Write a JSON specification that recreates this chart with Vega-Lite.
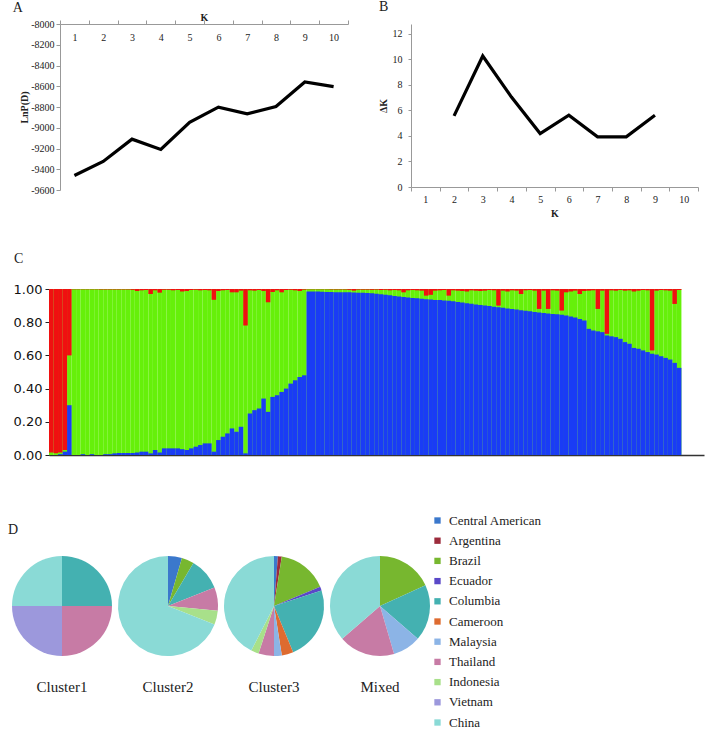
{
  "$schema": "https://vega.github.io/schema/vega-lite/v6.json",
  "padding": 0,
  "config": {
    "view": {"stroke": null},
    "font": "Liberation Serif",
    "axis": {"grid": false, "labelFont": "Liberation Serif", "titleFont": "Liberation Serif", "labelColor": "#222", "titleColor": "#222", "labelFontSize": 10, "titleFontSize": 10, "titleFontWeight": "bold"},
    "title": {"font": "Liberation Serif", "fontWeight": "normal", "fontSize": 14, "anchor": "start", "color": "#222"},
    "legend": {"padding": 0}
  },
  "vconcat": [
    {
      "vconcat": [
        {
          "hconcat": [
            {
              "hconcat": [
                {"width": 12, "height": 1, "data": {"values": [{}]}, "mark": {"type": "point", "opacity": 0, "size": 0}, "encoding": {}},
                {
                  "width": 288,
                  "height": 166,
                  "title": {"text": "A", "dx": -7, "offset": -2},
                  "data": {"values": [
                    {"K": 1, "lnp": -9460}, {"K": 2, "lnp": -9325}, {"K": 3, "lnp": -9110}, {"K": 4, "lnp": -9209},
                    {"K": 5, "lnp": -8947}, {"K": 6, "lnp": -8801}, {"K": 7, "lnp": -8866}, {"K": 8, "lnp": -8795},
                    {"K": 9, "lnp": -8559}, {"K": 10, "lnp": -8604}
                  ]},
                  "mark": {"type": "line", "color": "#000", "strokeWidth": 3.2},
                  "encoding": {
                    "x": {"field": "K", "type": "quantitative", "scale": {"domain": [0.5, 10.5], "nice": false, "zero": false},
                      "axis": {"orient": "top", "values": [0.5, 1.5, 2.5, 3.5, 4.5, 5.5, 6.5, 7.5, 8.5, 9.5, 10.5],
                        "labelExpr": "datum.value > 10 ? '' : '' + (datum.value + 0.5)", "labelOffset": 14.4, "labelPadding": -22,
                        "labelFlush": false, "labelOverlap": false, "title": "K", "titlePadding": -3,
                        "domainColor": "#999", "tickColor": "#999", "tickSize": 4}},
                    "y": {"field": "lnp", "type": "quantitative", "scale": {"domain": [-9600, -8000], "nice": false, "zero": false},
                      "axis": {"values": [-9600, -9400, -9200, -9000, -8800, -8600, -8400, -8200, -8000], "labelExpr": "'' + datum.value",
                        "title": "LnP(D)", "titlePadding": 1, "domainColor": "#999", "tickColor": "#999", "tickSize": 4, "labelPadding": 2}}
                  }
                }
              ],
              "spacing": 0
            },
            {
              "width": 287,
              "height": 163,
              "title": {"text": "B", "dx": 1, "offset": 10},
              "data": {"values": [
                {"K": 2, "dk": 5.58}, {"K": 3, "dk": 10.27}, {"K": 4, "dk": 7.05}, {"K": 5, "dk": 4.19},
                {"K": 6, "dk": 5.63}, {"K": 7, "dk": 3.93}, {"K": 8, "dk": 3.93}, {"K": 9, "dk": 5.63}
              ]},
              "mark": {"type": "line", "color": "#000", "strokeWidth": 3.2},
              "encoding": {
                "x": {"field": "K", "type": "quantitative", "scale": {"domain": [0.5, 10.5], "nice": false, "zero": false},
                  "axis": {"values": [0.5, 1.5, 2.5, 3.5, 4.5, 5.5, 6.5, 7.5, 8.5, 9.5, 10.5],
                    "labelExpr": "datum.value > 10 ? '' : '' + (datum.value + 0.5)", "labelOffset": 14.35, "labelPadding": 3,
                    "labelFlush": false, "labelOverlap": false, "title": "K", "titlePadding": 4,
                    "domainColor": "#999", "tickColor": "#999", "tickSize": 4}},
                "y": {"field": "dk", "type": "quantitative", "scale": {"domain": [0, 12.78], "nice": false},
                  "axis": {"values": [0, 2, 4, 6, 8, 10, 12], "labelOverlap": false, "title": "ΔK", "titlePadding": 4,
                    "domainColor": "#999", "tickColor": "#999", "tickSize": 3, "labelPadding": 6}}
              }
            }
          ],
          "spacing": 15
        },
        {
          "hconcat": [
            {"width": 13, "height": 1, "data": {"values": [{}]}, "mark": {"type": "point", "opacity": 0, "size": 0}, "encoding": {}},
            {
              "width": 655,
              "height": 166,
              "title": {"text": "C", "dx": 1, "offset": 17},
              "data": {"values": [
                {"i":0,"blue":0,"red":0.985},{"i":1,"blue":0,"red":0.99},{"i":2,"blue":0.005,"red":0.985},{"i":3,"blue":0.02,"red":0.97},{"i":4,"blue":0.3,"red":0.4},
                {"i":5,"blue":0,"red":0.002},{"i":6,"blue":0,"red":0.002},{"i":7,"blue":0.005,"red":0.002},{"i":8,"blue":0,"red":0.002},{"i":9,"blue":0.005,"red":0.002},
                {"i":10,"blue":0,"red":0.002},{"i":11,"blue":0,"red":0.003},{"i":12,"blue":0.005,"red":0.003},{"i":13,"blue":0.005,"red":0.003},{"i":14,"blue":0.01,"red":0.003},
                {"i":15,"blue":0.012,"red":0.003},{"i":16,"blue":0.012,"red":0.003},{"i":17,"blue":0.012,"red":0.003},{"i":18,"blue":0.012,"red":0.005},{"i":19,"blue":0.015,"red":0.012},
                {"i":20,"blue":0.02,"red":0.008},{"i":21,"blue":0.02,"red":0.006},{"i":22,"blue":0.01,"red":0.03},{"i":23,"blue":0.03,"red":0.008},{"i":24,"blue":0.015,"red":0.022},
                {"i":25,"blue":0.04,"red":0.005},{"i":26,"blue":0.04,"red":0.005},{"i":27,"blue":0.04,"red":0.008},{"i":28,"blue":0.04,"red":0.006},{"i":29,"blue":0.035,"red":0.015},
                {"i":30,"blue":0.03,"red":0.012},{"i":31,"blue":0.04,"red":0.006},{"i":32,"blue":0.05,"red":0.005},{"i":33,"blue":0.06,"red":0.008},{"i":34,"blue":0.07,"red":0.006},
                {"i":35,"blue":0.07,"red":0.008},{"i":36,"blue":0.02,"red":0.065},{"i":37,"blue":0.09,"red":0.012},{"i":38,"blue":0.11,"red":0.008},{"i":39,"blue":0.13,"red":0.006},
                {"i":40,"blue":0.16,"red":0.02},{"i":41,"blue":0.14,"red":0.02},{"i":42,"blue":0.17,"red":0.01},{"i":43,"blue":0.01,"red":0.22},{"i":44,"blue":0.25,"red":0.008},
                {"i":45,"blue":0.27,"red":0.01},{"i":46,"blue":0.28,"red":0.006},{"i":47,"blue":0.34,"red":0.012},{"i":48,"blue":0.26,"red":0.08},{"i":49,"blue":0.35,"red":0.018},
                {"i":50,"blue":0.36,"red":0.008},{"i":51,"blue":0.38,"red":0.02},{"i":52,"blue":0.4,"red":0.006},{"i":53,"blue":0.43,"red":0.005},{"i":54,"blue":0.45,"red":0.008},
                {"i":55,"blue":0.47,"red":0.012},{"i":56,"blue":0.48,"red":0.004},
                {"i":57,"blue":0.985,"red":0.002},{"i":58,"blue":0.985,"red":0.002},{"i":59,"blue":0.985,"red":0.002},{"i":60,"blue":0.983,"red":0.002},{"i":61,"blue":0.982,"red":0.002},
                {"i":62,"blue":0.982,"red":0.003},{"i":63,"blue":0.981,"red":0.003},{"i":64,"blue":0.98,"red":0.003},{"i":65,"blue":0.98,"red":0.003},{"i":66,"blue":0.98,"red":0.005},
                {"i":67,"blue":0.979,"red":0.01},{"i":68,"blue":0.978,"red":0.004},{"i":69,"blue":0.977,"red":0.004},{"i":70,"blue":0.976,"red":0.004},{"i":71,"blue":0.975,"red":0.005},
                {"i":72,"blue":0.972,"red":0.004},{"i":73,"blue":0.968,"red":0.006},{"i":74,"blue":0.965,"red":0.005},{"i":75,"blue":0.962,"red":0.008},{"i":76,"blue":0.958,"red":0.006},
                {"i":77,"blue":0.955,"red":0.008},{"i":78,"blue":0.952,"red":0.02},{"i":79,"blue":0.949,"red":0.008},{"i":80,"blue":0.946,"red":0.006},{"i":81,"blue":0.944,"red":0.008},
                {"i":82,"blue":0.941,"red":0.01},{"i":83,"blue":0.939,"red":0.04},{"i":84,"blue":0.936,"red":0.035},{"i":85,"blue":0.934,"red":0.01},{"i":86,"blue":0.933,"red":0.008},
                {"i":87,"blue":0.931,"red":0.006},{"i":88,"blue":0.929,"red":0.04},{"i":89,"blue":0.926,"red":0.008},{"i":90,"blue":0.922,"red":0.01},{"i":91,"blue":0.918,"red":0.012},
                {"i":92,"blue":0.914,"red":0.015},{"i":93,"blue":0.911,"red":0.008},{"i":94,"blue":0.907,"red":0.01},{"i":95,"blue":0.904,"red":0.012},{"i":96,"blue":0.9,"red":0.01},
                {"i":97,"blue":0.897,"red":0.006},{"i":98,"blue":0.893,"red":0.008},{"i":99,"blue":0.89,"red":0.1},{"i":100,"blue":0.887,"red":0.01},{"i":101,"blue":0.883,"red":0.015},
                {"i":102,"blue":0.88,"red":0.008},{"i":103,"blue":0.876,"red":0.01},{"i":104,"blue":0.872,"red":0.03},{"i":105,"blue":0.869,"red":0.008},{"i":106,"blue":0.866,"red":0.006},
                {"i":107,"blue":0.862,"red":0.01},{"i":108,"blue":0.859,"red":0.12},{"i":109,"blue":0.855,"red":0.01},{"i":110,"blue":0.852,"red":0.12},{"i":111,"blue":0.85,"red":0.008},
                {"i":112,"blue":0.848,"red":0.01},{"i":113,"blue":0.845,"red":0.13},{"i":114,"blue":0.84,"red":0.02},{"i":115,"blue":0.835,"red":0.015},{"i":116,"blue":0.828,"red":0.01},
                {"i":117,"blue":0.82,"red":0.03},{"i":118,"blue":0.81,"red":0.012},{"i":119,"blue":0.76,"red":0.01},{"i":120,"blue":0.75,"red":0.008},{"i":121,"blue":0.745,"red":0.12},
                {"i":122,"blue":0.74,"red":0.01},{"i":123,"blue":0.72,"red":0.27},{"i":124,"blue":0.715,"red":0.008},{"i":125,"blue":0.71,"red":0.01},{"i":126,"blue":0.7,"red":0.006},
                {"i":127,"blue":0.68,"red":0.01},{"i":128,"blue":0.67,"red":0.008},{"i":129,"blue":0.645,"red":0.015},{"i":130,"blue":0.64,"red":0.01},{"i":131,"blue":0.63,"red":0.006},
                {"i":132,"blue":0.62,"red":0.008},{"i":133,"blue":0.61,"red":0.37},{"i":134,"blue":0.605,"red":0.01},{"i":135,"blue":0.595,"red":0.006},{"i":136,"blue":0.585,"red":0.008},
                {"i":137,"blue":0.575,"red":0.01},{"i":138,"blue":0.555,"red":0.09},{"i":139,"blue":0.525,"red":0.006}
              ]},
              "encoding": {
                "x": {"field": "i", "type": "ordinal",
                  "scale": {"paddingInner": 0, "paddingOuter": 0, "domain": [0,1,2,3,4,5,6,7,8,9,10,11,12,13,14,15,16,17,18,19,20,21,22,23,24,25,26,27,28,29,30,31,32,33,34,35,36,37,38,39,40,41,42,43,44,45,46,47,48,49,50,51,52,53,54,55,56,57,58,59,60,61,62,63,64,65,66,67,68,69,70,71,72,73,74,75,76,77,78,79,80,81,82,83,84,85,86,87,88,89,90,91,92,93,94,95,96,97,98,99,100,101,102,103,104,105,106,107,108,109,110,111,112,113,114,115,116,117,118,119,120,121,122,123,124,125,126,127,128,129,130,131,132,133,134,135,136,137,138,139,140,141,142,143,144]},
                  "axis": {"labels": false, "ticks": false, "title": null, "domainColor": "#333", "domainWidth": 1.5}}
              },
              "layer": [
                {"mark": {"type": "bar", "color": "#66f00a"},
                  "encoding": {"y": {"datum": 1, "type": "quantitative", "scale": {"domain": [0, 1], "nice": false},
                    "axis": {"values": [0, 0.2, 0.4, 0.6, 0.8, 1], "format": ".2f", "title": null, "labelFont": "DejaVu Sans", "labelFontSize": 13,
                      "labelColor": "#111", "domainColor": "#222", "tickColor": "#222", "tickSize": 4, "labelPadding": 3}}}},
                {"mark": {"type": "bar", "color": "#1a3cf5"},
                  "encoding": {"y": {"field": "blue", "type": "quantitative", "scale": {"domain": [0, 1], "nice": false}, "axis": null}}},
                {"mark": {"type": "bar", "color": "#f01010"},
                  "encoding": {"y": {"field": "red", "type": "quantitative", "scale": {"domain": [0, 1], "nice": false, "reverse": true}, "axis": null}}}
              ],
              "resolve": {"scale": {"y": "independent"}}
            }
          ],
          "spacing": 0
        }
      ],
      "spacing": 34
    },
    {
      "hconcat": [
        {"width": 8, "height": 1, "data": {"values": [{}]}, "mark": {"type": "point", "opacity": 0, "size": 0}, "encoding": {}},
        {
          "title": {"text": "D", "dx": -4, "offset": 19},
          "data": {"values": [
            {"cluster": "Cluster1", "country": "Columbia", "n": 1, "o": 5},
            {"cluster": "Cluster1", "country": "Thailand", "n": 1, "o": 8},
            {"cluster": "Cluster1", "country": "Vietnam", "n": 1, "o": 10},
            {"cluster": "Cluster1", "country": "China", "n": 1, "o": 11},
            {"cluster": "Cluster2", "country": "Central American", "n": 4.5, "o": 1},
            {"cluster": "Cluster2", "country": "Brazil", "n": 4, "o": 3},
            {"cluster": "Cluster2", "country": "Columbia", "n": 10.5, "o": 5},
            {"cluster": "Cluster2", "country": "Thailand", "n": 7.5, "o": 8},
            {"cluster": "Cluster2", "country": "Indonesia", "n": 4.5, "o": 9},
            {"cluster": "Cluster2", "country": "China", "n": 69, "o": 11},
            {"cluster": "Cluster3", "country": "Central American", "n": 1, "o": 1},
            {"cluster": "Cluster3", "country": "Argentina", "n": 1, "o": 2},
            {"cluster": "Cluster3", "country": "Brazil", "n": 13, "o": 3},
            {"cluster": "Cluster3", "country": "Ecuador", "n": 1, "o": 4},
            {"cluster": "Cluster3", "country": "Columbia", "n": 19, "o": 5},
            {"cluster": "Cluster3", "country": "Cameroon", "n": 3, "o": 6},
            {"cluster": "Cluster3", "country": "Malaysia", "n": 2, "o": 7},
            {"cluster": "Cluster3", "country": "Thailand", "n": 4, "o": 8},
            {"cluster": "Cluster3", "country": "Indonesia", "n": 2, "o": 9},
            {"cluster": "Cluster3", "country": "China", "n": 34, "o": 11},
            {"cluster": "Mixed", "country": "Brazil", "n": 2, "o": 3},
            {"cluster": "Mixed", "country": "Columbia", "n": 2, "o": 5},
            {"cluster": "Mixed", "country": "Malaysia", "n": 1, "o": 7},
            {"cluster": "Mixed", "country": "Thailand", "n": 2, "o": 8},
            {"cluster": "Mixed", "country": "China", "n": 4, "o": 11}
          ]},
          "facet": {"column": {"field": "cluster", "type": "nominal", "title": null,
            "header": {"labelOrient": "bottom", "labelFont": "Liberation Serif", "labelFontSize": 15, "labelPadding": 24, "labelColor": "#222"}}},
          "spacing": 6,
          "spec": {
            "width": 100,
            "height": 100,
            "mark": {"type": "arc"},
            "encoding": {
              "theta": {"field": "n", "type": "quantitative", "stack": true},
              "order": {"field": "o", "type": "quantitative"},
              "color": {"field": "country", "type": "nominal",
                "scale": {"domain": ["Central American", "Argentina", "Brazil", "Ecuador", "Columbia", "Cameroon", "Malaysia", "Thailand", "Indonesia", "Vietnam", "China"],
                  "range": ["#3b78cc", "#9c2b3c", "#77b72f", "#5a48c8", "#44b1b1", "#de6b30", "#8cb4e6", "#c77ba5", "#a8e08a", "#9c98dc", "#8adad6"]},
                "legend": {"title": null, "orient": "none", "legendX": 431, "legendY": 490, "symbolType": "square", "symbolSize": 40,
                  "labelFont": "Liberation Serif", "labelFontSize": 13, "labelColor": "#222", "rowPadding": 6.2, "labelOffset": 5}}
            }
          }
        }
      ],
      "spacing": 0
    }
  ],
  "spacing": 61
}
